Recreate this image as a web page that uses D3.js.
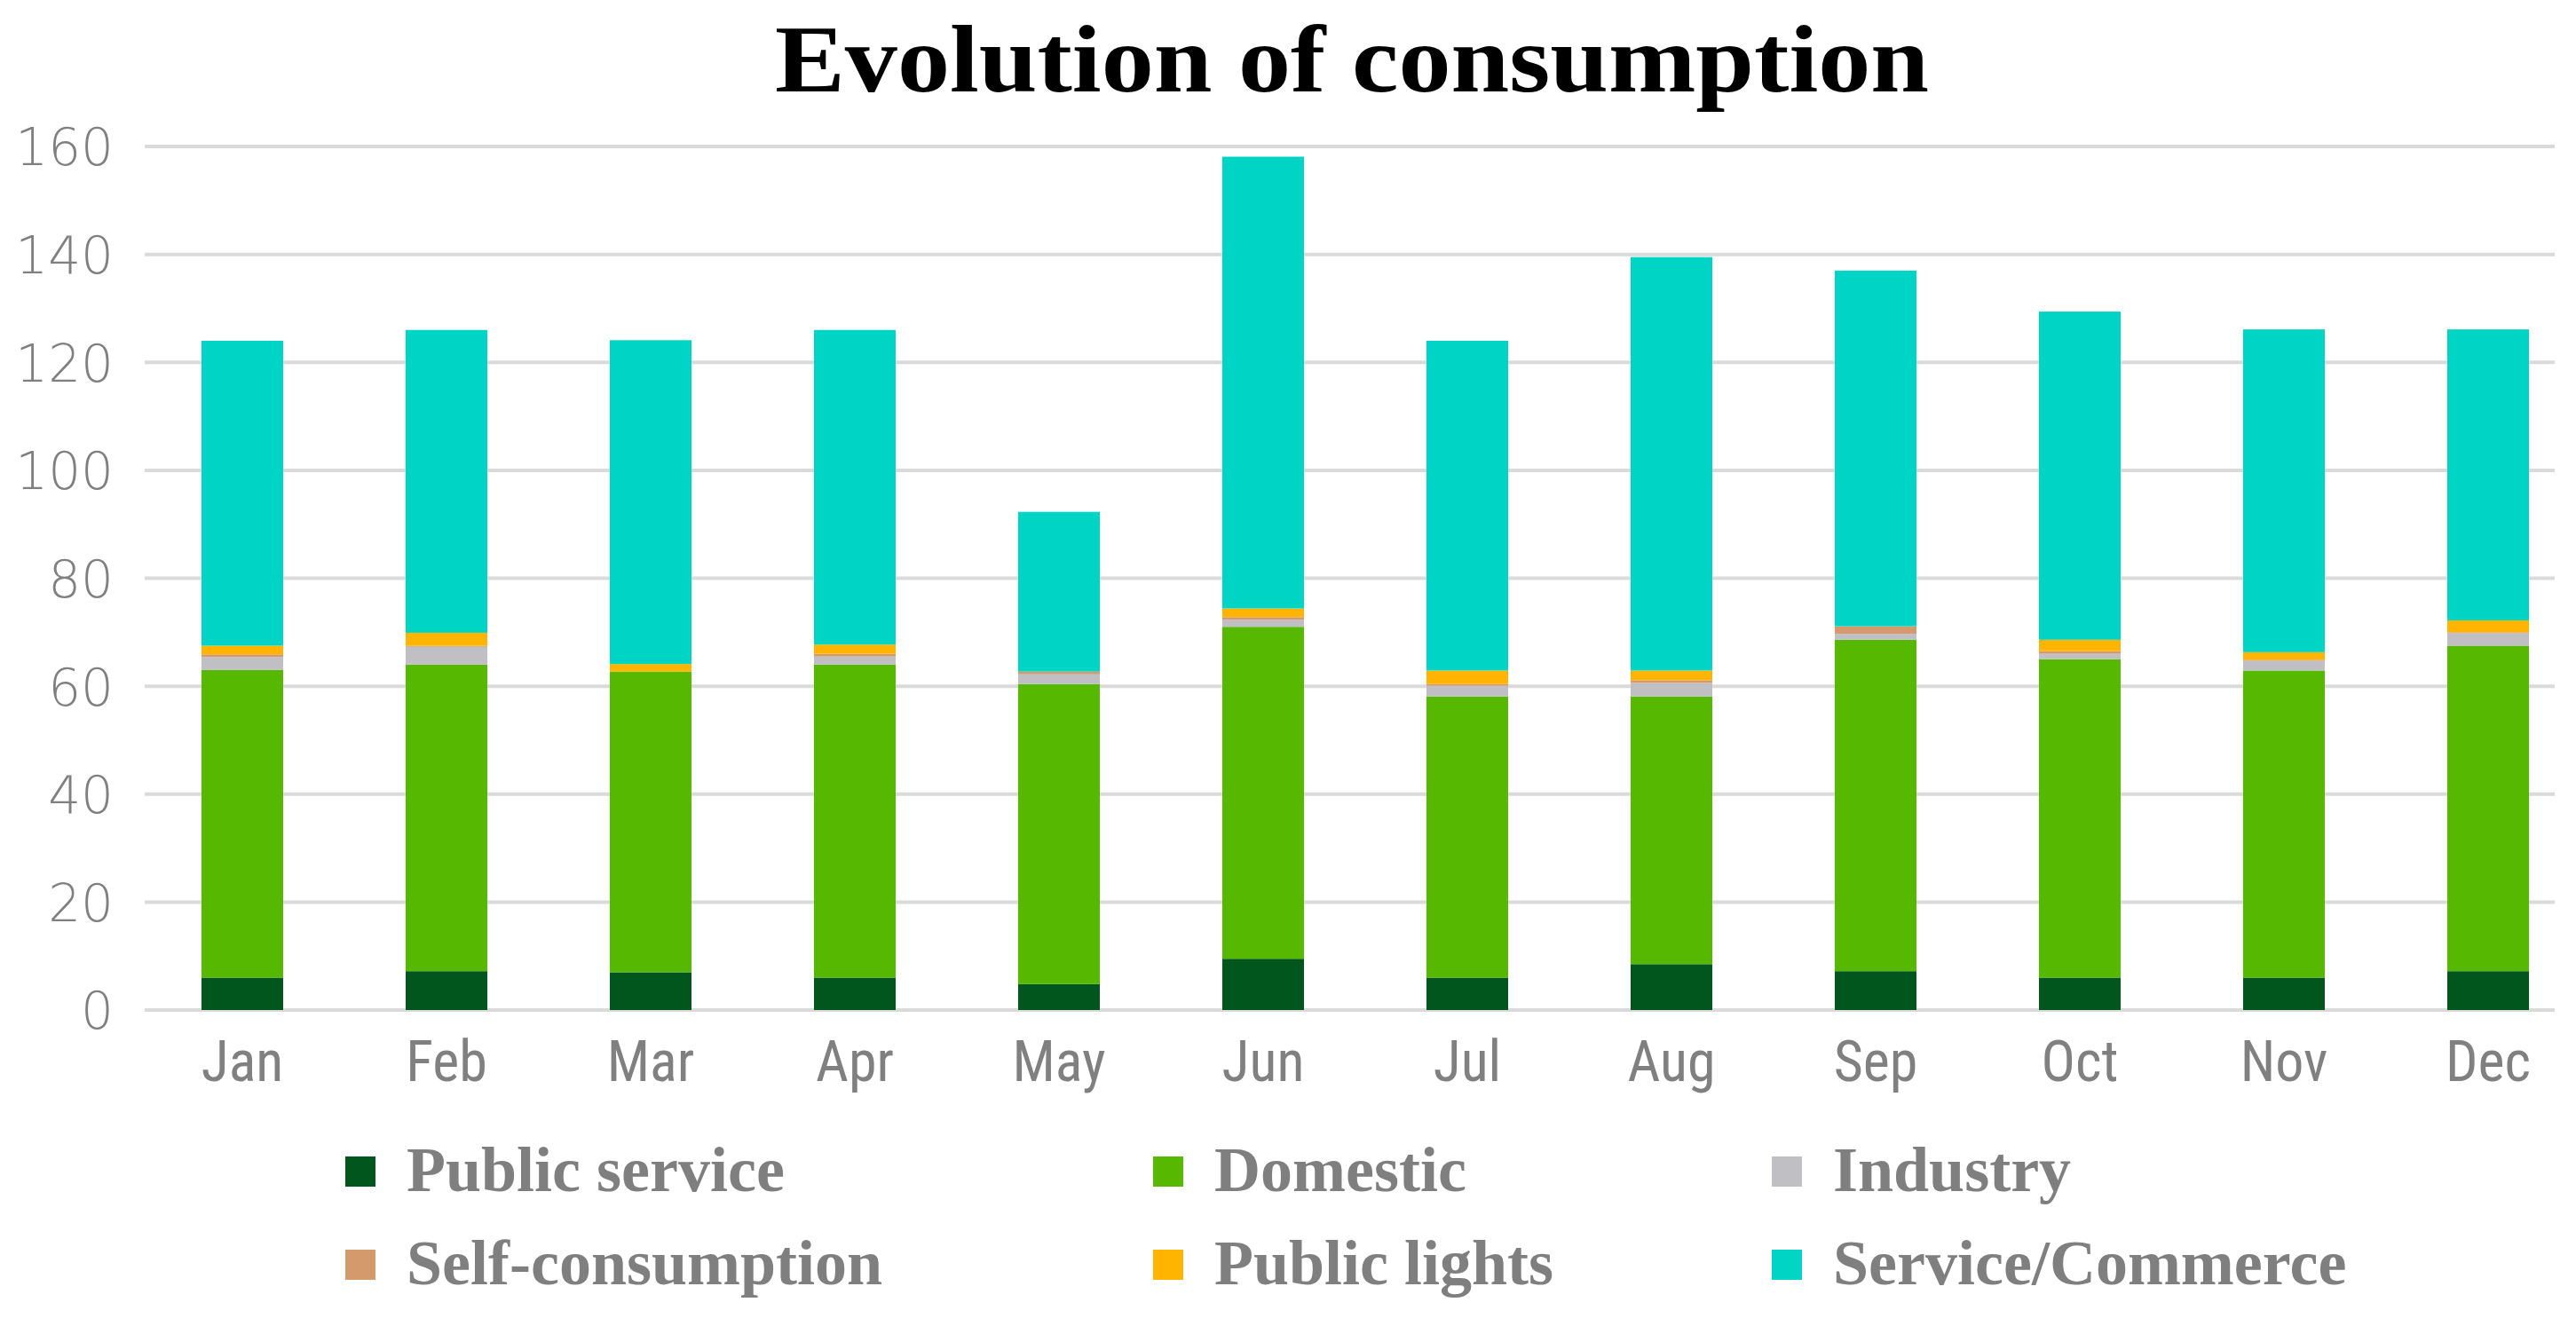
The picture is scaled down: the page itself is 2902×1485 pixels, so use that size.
<!DOCTYPE html>
<html>
<head>
<meta charset="utf-8">
<script src="https://cdn.jsdelivr.net/npm/d3@7"></script>
<style>
  html, body { margin: 0; padding: 0; background: #ffffff; }
  svg { display: block; }
</style>
</head>
<body>
<svg id="chart" width="2902" height="1485"></svg>
<script>
// ---- Data ----
const months = ["Jan", "Feb", "Mar", "Apr", "May", "Jun", "Jul", "Aug", "Sep", "Oct", "Nov", "Dec"];
const seriesNames = ["Public service", "Domestic", "Industry", "Self-consumption", "Public lights", "Service/Commerce"];
const publicService   = [6, 7.2, 7, 6, 4.8, 9.5, 6, 8.5, 7.2, 6, 6, 7.2];
const domestic        = [57, 56.8, 55.7, 58, 55.6, 61.5, 52.1, 49.6, 61.4, 59, 56.9, 60.3];
const industry        = [2.4, 3.3, 0, 1.5, 1.8, 1.3, 2.0, 2.5, 1.1, 1.0, 1.8, 2.3];
const selfConsumption = [0.5, 0.2, 0, 0.5, 0.5, 0.5, 0.3, 0.5, 1.4, 0.5, 0.2, 0.2];
const publicLights    = [1.6, 2.4, 1.4, 1.7, 0, 1.6, 2.5, 1.8, 0, 2.1, 1.4, 2.2];
const serviceCommerce = [56.5, 56.1, 60, 58.3, 29.6, 83.7, 61.1, 76.6, 65.9, 60.8, 59.8, 53.9];
const yTicks = [0, 20, 40, 60, 80, 100, 120, 140, 160];
const colors = ["#00561c", "#57b800", "#c0c0c4", "#d49a6c", "#ffb400", "#00d4c4"];

// ---- Build table ----
const seriesValues = [publicService, domestic, industry, selfConsumption, publicLights, serviceCommerce];
const table = months.map((m, i) => {
  const row = { month: m };
  seriesNames.forEach((s, k) => row[s] = seriesValues[k][i]);
  return row;
});
const stacked = d3.stack().keys(seriesNames)(table);

const svg = d3.select("#chart");
svg.append("rect").attr("width", 2902).attr("height", 1485).attr("fill", "#ffffff");

const x = d3.scaleBand().domain(months).range([158, 2918]).paddingInner(0.6).paddingOuter(0.3);
const y = d3.scaleLinear().domain([0, 160]).range([1138, 165]);
const gridLeft = 163, gridRight = 2878;

// Title
svg.append("text")
  .attr("x", 1523).attr("y", 103)
  .attr("text-anchor", "middle")
  .attr("font-family", "'Liberation Serif', 'DejaVu Serif', serif")
  .attr("font-weight", "bold")
  .attr("font-size", 107)
  .attr("textLength", 1300)
  .attr("lengthAdjust", "spacingAndGlyphs")
  .attr("fill", "#000000")
  .text("Evolution of consumption");

// Gridlines
svg.append("g").selectAll("line")
  .data(yTicks)
  .join("line")
  .attr("x1", gridLeft).attr("x2", gridRight)
  .attr("y1", d => y(d)).attr("y2", d => y(d))
  .attr("stroke", "#dadada")
  .attr("stroke-width", 4);

// Y axis labels
const yAxis = d3.axisLeft(y).tickValues(yTicks).tickSize(0).tickPadding(0);
const gy = svg.append("g").attr("transform", "translate(128,0)").call(yAxis);
gy.select(".domain").remove();
gy.selectAll("text")
  .attr("font-family", "'DejaVu Sans', sans-serif")
  .attr("font-weight", 300)
  .attr("font-size", 58)
  .attr("fill", "#808080")
  .attr("dy", "0.36em");

// Bars
svg.append("g").selectAll("g")
  .data(stacked)
  .join("g")
  .attr("fill", (d, i) => colors[i])
  .selectAll("rect")
  .data(d => d)
  .join("rect")
  .attr("x", d => x(d.data.month))
  .attr("width", x.bandwidth())
  .attr("y", d => y(d[1]))
  .attr("height", d => Math.max(0, y(d[0]) - y(d[1])));

// X axis labels
const xAxis = d3.axisBottom(x).tickSize(0).tickPadding(0);
const gx = svg.append("g").attr("transform", "translate(0,1218)").call(xAxis);
gx.select(".domain").remove();
gx.selectAll("text")
  .attr("dy", 0)
  .attr("font-family", "'Liberation Sans Narrow', 'Roboto Condensed', 'Liberation Sans', sans-serif")
  .attr("font-stretch", "condensed")
  .attr("font-size", 64)
  .attr("fill", "#808080");

// Legend
const legendCols = [389, 1299, 1996];
const legendRows = [1303, 1408];
const legend = svg.append("g").selectAll("g")
  .data(seriesNames)
  .join("g")
  .attr("transform", (d, i) => `translate(${legendCols[i % 3]},${legendRows[Math.floor(i / 3)]})`);
legend.append("rect")
  .attr("width", 34).attr("height", 34)
  .attr("fill", (d, i) => colors[i]);
legend.append("text")
  .attr("x", 69).attr("y", 39)
  .attr("font-family", "'Liberation Serif', 'DejaVu Serif', serif")
  .attr("font-weight", "bold")
  .attr("font-size", 72)
  .attr("fill", "#7f7f7f")
  .text(d => d);
</script>
</body>
</html>
